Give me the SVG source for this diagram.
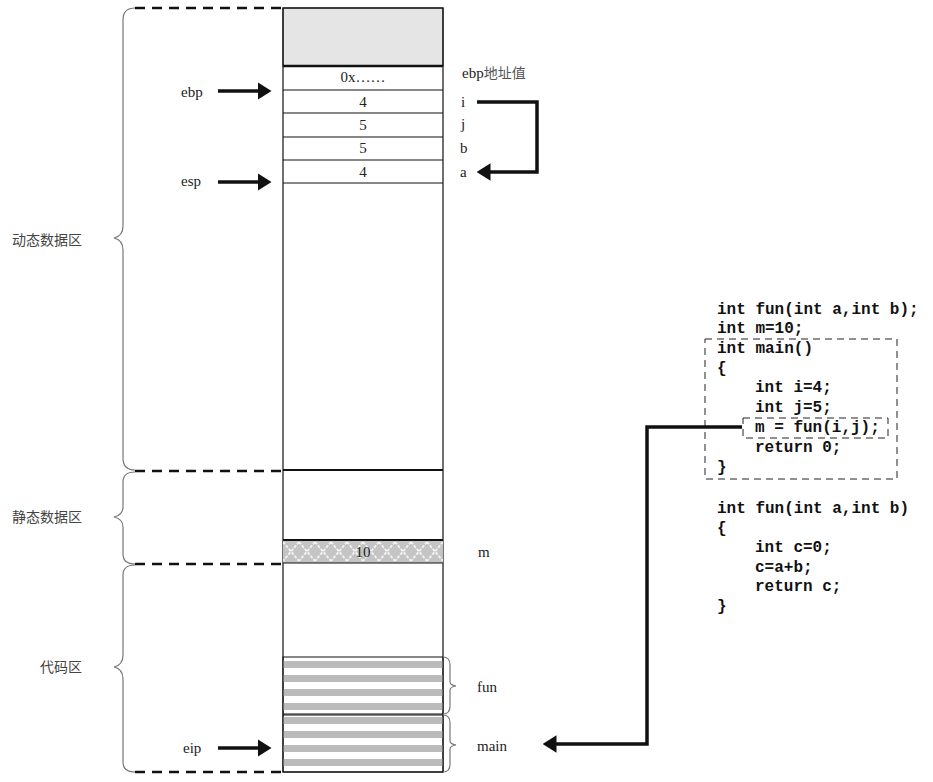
<svg xmlns="http://www.w3.org/2000/svg" width="933" height="782" viewBox="0 0 933 782">
<style>
.t{font-family:"Liberation Serif",serif;font-size:15px;fill:#222}
.c{font-family:"Liberation Mono",monospace;font-size:16px;font-weight:bold;fill:#111}
.z{font-family:"Noto Sans CJK SC",sans-serif;font-size:14px;fill:#444}
.cell{fill:none;stroke:#111;stroke-width:1.2}
.dash{stroke:#111;stroke-width:2.5;stroke-dasharray:10,7;fill:none}
.br{fill:none;stroke:#777;stroke-width:1.2}
.arr{stroke:#111;stroke-width:3.5;fill:none}
.tdash{fill:none;stroke:#222;stroke-width:1;stroke-dasharray:7,5}
</style>
<defs>
<marker id="ah" markerWidth="4" markerHeight="5" refX="3" refY="2.5" orient="auto" markerUnits="strokeWidth"><path d="M0,0 L4,2.5 L0,5 Z" fill="#111"/></marker>
<pattern id="stripe" width="10" height="14" patternUnits="userSpaceOnUse" y="657"><rect width="10" height="7" y="4" fill="#bbb"/></pattern>
<pattern id="cross" width="16" height="23" patternUnits="userSpaceOnUse" x="283" y="540"><rect width="16" height="23" fill="#c4c4c4"/><path d="M0,2 L16,21 M16,2 L0,21" stroke="#f4f4f4" stroke-width="1.8" stroke-dasharray="3,1.5"/></pattern>
</defs>
<g id="memory">
<rect x="283" y="8" width="160" height="58" fill="#e5e5e5" stroke="#111" stroke-width="1"/>
<rect x="283" y="8" width="160" height="764" class="cell"/>
<line x1="283" y1="66" x2="443" y2="66" stroke="#111" stroke-width="2.5"/>
<line x1="283" y1="90" x2="443" y2="90" class="cell"/>
<line x1="283" y1="113" x2="443" y2="113" class="cell"/>
<line x1="283" y1="137" x2="443" y2="137" class="cell"/>
<line x1="283" y1="160" x2="443" y2="160" class="cell"/>
<line x1="283" y1="183" x2="443" y2="183" class="cell"/>
<line x1="283" y1="470" x2="443" y2="470" stroke="#111" stroke-width="2"/>
<rect x="283" y="540" width="160" height="23" fill="url(#cross)"/>
<line x1="283" y1="540" x2="443" y2="540" stroke="#111" stroke-width="2"/>
<line x1="283" y1="563" x2="443" y2="563" class="cell"/>
<rect x="283" y="657" width="160" height="57" fill="url(#stripe)" stroke="#111" stroke-width="1"/>
<rect x="283" y="715" width="160" height="57" fill="url(#stripe)" stroke="#111" stroke-width="1"/>
<text class="t" x="363" y="82" text-anchor="middle">0x……</text>
<text class="t" x="363" y="107" text-anchor="middle">4</text>
<text class="t" x="363" y="130" text-anchor="middle">5</text>
<text class="t" x="363" y="153" text-anchor="middle">5</text>
<text class="t" x="363" y="177" text-anchor="middle">4</text>
<text class="t" x="363" y="557" text-anchor="middle">10</text>
</g>
<g id="regions">
<path class="dash" d="M135,8 H283 M135,471 H283 M135,564 H283 M135,772 H283"/>
<path class="br" d="M135,8 Q123,8 123,20 V226 Q123,236 114,238 Q123,240 123,250 V458 Q123,470 135,470"/>
<path class="br" d="M135,472 Q123,472 123,482 V507 Q123,515 114,517 Q123,519 123,527 V554 Q123,564 135,564"/>
<path class="br" d="M135,565 Q123,565 123,575 V655 Q123,665 114,667 Q123,669 123,679 V762 Q123,772 135,772"/>
<text class="z" x="12" y="245">动态数据区</text>
<text class="z" x="12" y="522">静态数据区</text>
<text class="z" x="40" y="672">代码区</text>
<path class="br" d="M443,657 Q450,657 450,665 V682 Q450,685 456,686 Q450,687 450,690 V706 Q450,714 443,714"/>
<path class="br" d="M443,715 Q450,715 450,723 V741 Q450,744 456,745 Q450,746 450,749 V764 Q450,772 443,772"/>
</g>
<g id="labels">
<text class="t" x="462" y="78">ebp<tspan font-family="Noto Sans CJK SC,sans-serif" font-size="14" fill="#555">地址值</tspan></text>
<text class="t" x="461" y="107">i</text>
<text class="t" x="461" y="129">j</text>
<text class="t" x="460" y="153">b</text>
<text class="t" x="460" y="177">a</text>
<text class="t" x="478" y="557">m</text>
<text class="t" x="477" y="692">fun</text>
<text class="t" x="477" y="751">main</text>
<text class="t" x="181" y="97">ebp</text>
<text class="t" x="181" y="186">esp</text>
<text class="t" x="183" y="753">eip</text>
</g>
<g id="code">
<text class="c" x="717" y="314">int fun(int a,int b);</text>
<text class="c" x="717" y="333">int m=10;</text>
<text class="c" x="717" y="353">int main()</text>
<text class="c" x="717" y="373">{</text>
<text class="c" x="755" y="392">int i=4;</text>
<text class="c" x="755" y="412">int j=5;</text>
<text class="c" x="755" y="432">m = fun(i,j);</text>
<text class="c" x="755" y="452">return 0;</text>
<text class="c" x="717" y="472">}</text>
<text class="c" x="717" y="513">int fun(int a,int b)</text>
<text class="c" x="717" y="533">{</text>
<text class="c" x="755" y="552">int c=0;</text>
<text class="c" x="755" y="572">c=a+b;</text>
<text class="c" x="755" y="591">return c;</text>
<text class="c" x="717" y="611">}</text>
<rect class="tdash" x="705" y="339" width="192" height="140"/>
<rect class="tdash" x="743" y="418" width="145" height="20"/>
</g>
<g id="connectors">
<path class="arr" d="M218,91 H268" marker-end="url(#ah)"/>
<path class="arr" d="M218,182 H268" marker-end="url(#ah)"/>
<path class="arr" d="M218,748 H268" marker-end="url(#ah)"/>
<path class="arr" d="M477,102 H537 V172 H480" marker-end="url(#ah)"/>
<path class="arr" d="M742,427 H647 V744 H546" marker-end="url(#ah)"/>
</g>
</svg>
